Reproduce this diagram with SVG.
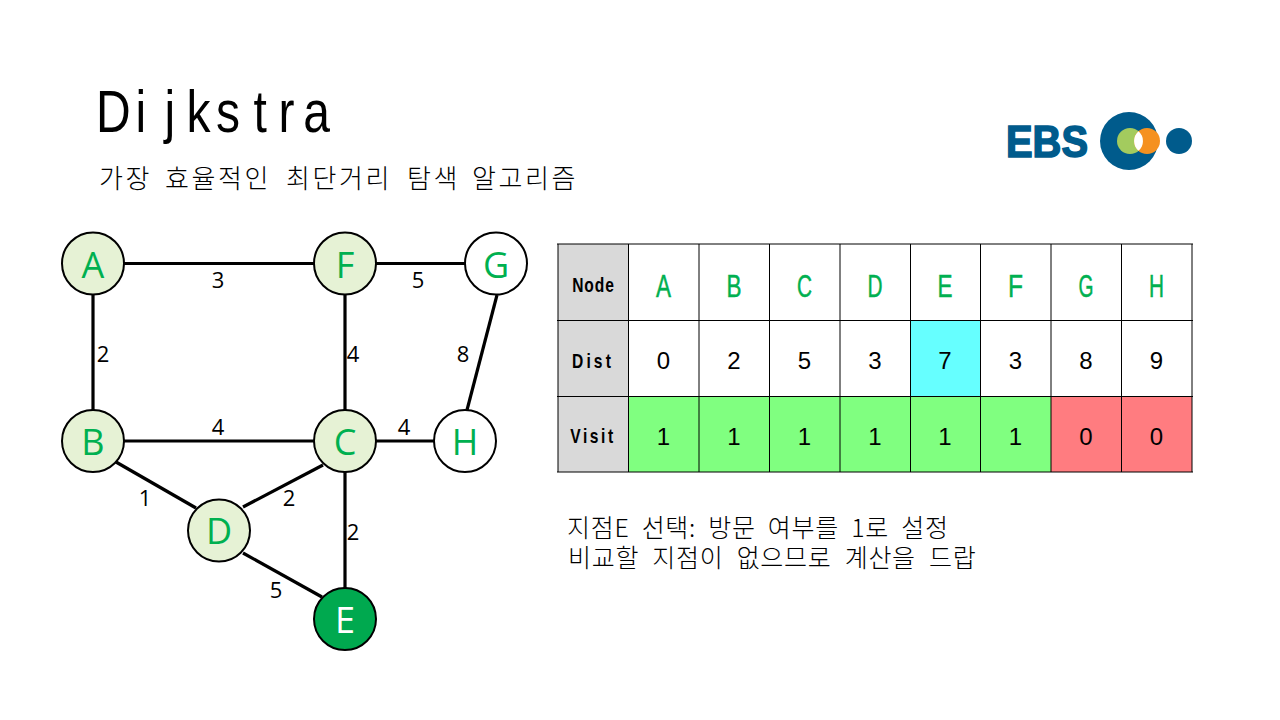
<svg xmlns="http://www.w3.org/2000/svg" width="1280" height="720" viewBox="0 0 1280 720">
<style>
.cjk{font-family:"Noto Sans CJK KR","Noto Sans",sans-serif;fill:#000;font-weight:300}
.edge{stroke:#000;stroke-width:3.200;fill:none}
.n{stroke:#000;stroke-width:2;fill:#e6f2d5}
.w{fill:#fff}
.nl{font-family:"Open Sans","Noto Sans",sans-serif;font-size:36px;fill:#00b050;text-anchor:middle}
.el{font-family:"Open Sans","Noto Sans",sans-serif;font-size:22px;fill:#000;text-anchor:middle}
.hd{font-family:"Liberation Sans",sans-serif;font-weight:bold;font-size:20px;fill:#000;text-anchor:middle}
.tn{font-family:"Liberation Sans",sans-serif;font-size:32px;fill:#00b050;text-anchor:middle;stroke:#00b050;stroke-width:.5}
.tv{font-family:"Liberation Sans",sans-serif;font-size:24px;fill:#000;text-anchor:middle}
.g{stroke:#000;stroke-width:1;fill:none}
</style>
<rect width="1280" height="720" fill="#fff"/>
<text transform="translate(0,132) scale(.8,1)" x="120 169.400 205.600 233 270 317 348 379" y="0" font-family="Liberation Sans,sans-serif" font-size="60" fill="#000">Dijkstra</text>
<text y="188" class="cjk" font-size="26" letter-spacing="2.600"><tspan x="99">가장</tspan><tspan x="165">효율적인</tspan><tspan x="286">최단거리</tspan><tspan x="407">탐색</tspan><tspan x="472">알고리즘</tspan></text>
<g id="logo">
<text x="1006" y="157" font-family="Liberation Sans,sans-serif" font-weight="bold" font-size="44" fill="#005b8c" stroke="#005b8c" stroke-width="1.600" textLength="82" lengthAdjust="spacingAndGlyphs">EBS</text>
<circle cx="1129" cy="141" r="29" fill="#005b8c"/>
<circle cx="1130" cy="141" r="13" fill="#a3cb5e"/>
<circle cx="1147" cy="141" r="13" fill="#f59120"/>
<path d="M1138.500 131.200A13 13 0 0 1 1138.500 150.800A13 13 0 0 1 1138.500 131.200Z" fill="#fff"/>
<circle cx="1179" cy="141" r="13" fill="#005b8c"/>
</g>
<g id="connectors">
<line class="edge" x1="93" y1="263.500" x2="345" y2="263.500"/>
<line class="edge" x1="345" y1="263.500" x2="496" y2="263.500"/>
<line class="edge" x1="93" y1="264" x2="93" y2="441"/>
<line class="edge" x1="345" y1="264" x2="345" y2="619"/>
<line class="edge" x1="497" y1="295" x2="467" y2="410"/>
<line class="edge" x1="93" y1="441" x2="465" y2="441"/>
<line class="edge" x1="116" y1="462" x2="196" y2="508"/>
<line class="edge" x1="323" y1="465" x2="243" y2="507"/>
<line class="edge" x1="243" y1="553" x2="322" y2="597"/>
</g>
<g id="edge-labels">
<text class="el" x="218" y="288">3</text>
<text class="el" x="418" y="288">5</text>
<text class="el" x="103" y="362">2</text>
<text class="el" x="353" y="362">4</text>
<text class="el" x="463" y="362">8</text>
<text class="el" x="218" y="435">4</text>
<text class="el" x="404" y="435">4</text>
<text class="el" x="145" y="506">1</text>
<text class="el" x="289" y="506">2</text>
<text class="el" x="353" y="540">2</text>
<text class="el" x="276" y="598">5</text>
</g>
<g id="node-A"><circle class="n" cx="93" cy="263.500" r="31"/><text class="nl" x="93" y="278">A</text></g>
<g id="node-F"><circle class="n" cx="345" cy="263.500" r="31"/><text class="nl" x="345" y="278">F</text></g>
<g id="node-G"><circle class="n w" cx="496" cy="263.500" r="31"/><text class="nl" x="496" y="278">G</text></g>
<g id="node-B"><circle class="n" cx="93" cy="441" r="31"/><text class="nl" x="93" y="455">B</text></g>
<g id="node-C"><circle class="n" cx="345" cy="441" r="31"/><text class="nl" x="345" y="455">C</text></g>
<g id="node-H"><circle class="n w" cx="465" cy="441" r="31"/><text class="nl" x="465" y="455">H</text></g>
<g id="node-D"><circle class="n" cx="219" cy="530.500" r="31"/><text class="nl" x="219" y="544">D</text></g>
<g id="node-E"><circle class="n" style="fill:#00a94f" cx="345" cy="619" r="31"/><text class="nl" style="fill:#fff" x="345" y="633">E</text></g>
<g id="table">
<rect x="558" y="244" width="71" height="228" fill="#d9d9d9"/>
<rect x="910.500" y="320.500" width="70" height="76" fill="#66ffff"/>
<rect x="629" y="396.500" width="422" height="75.500" fill="#80ff80"/>
<rect x="1051" y="396.500" width="141" height="75.500" fill="#ff7c80"/>
<path class="g" d="M558 244V472M628.500 244V472M699 244V472M769.500 244V472M840 244V472M910.500 244V472M980.500 244V472M1051 244V472M1121.500 244V472M1192 244V472M557 244H1193M557 320.500H1193M557 396.500H1193M557 472H1193"/>
<text class="hd" transform="translate(593.500,292) scale(.78,1)" letter-spacing="1.200">Node</text>
<text class="hd" transform="translate(593,368) scale(.78,1)" letter-spacing="4">Dist</text>
<text class="hd" transform="translate(593,443) scale(.78,1)" letter-spacing="3.300">Visit</text>
<text class="tn" x="663.500" y="297" textLength="15" lengthAdjust="spacingAndGlyphs">A</text>
<text class="tn" x="734" y="297" textLength="15" lengthAdjust="spacingAndGlyphs">B</text>
<text class="tn" x="804.500" y="297" textLength="15" lengthAdjust="spacingAndGlyphs">C</text>
<text class="tn" x="875" y="297" textLength="15" lengthAdjust="spacingAndGlyphs">D</text>
<text class="tn" x="945" y="297" textLength="15" lengthAdjust="spacingAndGlyphs">E</text>
<text class="tn" x="1015.500" y="297" textLength="15" lengthAdjust="spacingAndGlyphs">F</text>
<text class="tn" x="1086" y="297" textLength="15" lengthAdjust="spacingAndGlyphs">G</text>
<text class="tn" x="1156.500" y="297" textLength="15" lengthAdjust="spacingAndGlyphs">H</text>
<text class="tv" x="663.500" y="369">0</text><text class="tv" x="734" y="369">2</text><text class="tv" x="804.500" y="369">5</text><text class="tv" x="875" y="369">3</text><text class="tv" x="945" y="369">7</text><text class="tv" x="1015.500" y="369">3</text><text class="tv" x="1086" y="369">8</text><text class="tv" x="1156.500" y="369">9</text>
<text class="tv" x="663.500" y="445">1</text><text class="tv" x="734" y="445">1</text><text class="tv" x="804.500" y="445">1</text><text class="tv" x="875" y="445">1</text><text class="tv" x="945" y="445">1</text><text class="tv" x="1015.500" y="445">1</text><text class="tv" x="1086" y="445">0</text><text class="tv" x="1156.500" y="445">0</text>
</g>
<text x="567" y="537" class="cjk" font-size="25" letter-spacing=".7" word-spacing="6">지점E 선택: 방문 여부를 1로 설정</text>
<text x="568" y="567" class="cjk" font-size="25" letter-spacing=".7" word-spacing="7">비교할 지점이 없으므로 계산을 드랍</text>
</svg>
